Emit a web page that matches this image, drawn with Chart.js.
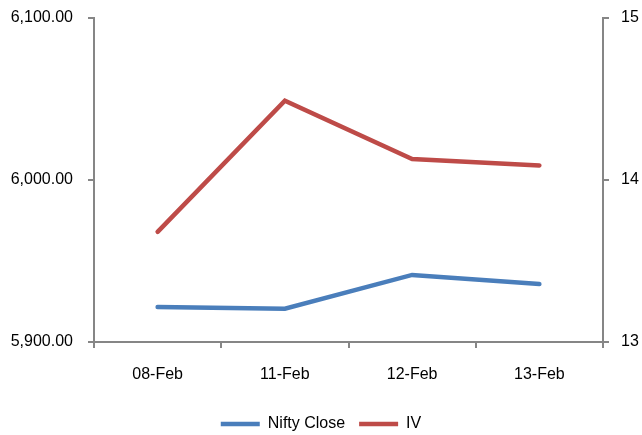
<!DOCTYPE html>
<html>
<head>
<meta charset="utf-8">
<script src="https://cdn.jsdelivr.net/npm/chart.js@4/dist/chart.umd.min.js"></script>
<style>
  html, body { margin: 0; padding: 0; background: #fff; }
  #wrap { width: 642px; height: 435px; }
</style>
</head>
<body>
<div id="wrap"><canvas id="c" width="642" height="435"></canvas></div>
<script>
const categories = ['08-Feb', '11-Feb', '12-Feb', '13-Feb'];
const niftyClose = [5921.6, 5920.5, 5941.4, 5935.8];
const iv = [13.68, 14.49, 14.13, 14.09];
const leftTicks = [5900, 6000, 6100];
const rightTicks = [13, 14, 15];

const FONT = "'Liberation Sans', Arial, sans-serif";
const AXIS = '#868686';
const fmtLeft = v => v.toLocaleString('en-US', { minimumFractionDigits: 2, maximumFractionDigits: 2 });

// vertical axes: fixed width, and no extra vertical room reserved for the end labels
const fitVertical = w => s => { s.width = w; s.paddingTop = 0; s.paddingBottom = 0; };

new Chart(document.getElementById('c'), {
  type: 'line',
  data: {
    labels: categories,
    datasets: [
      { label: 'Nifty Close', data: niftyClose, yAxisID: 'y',
        borderColor: '#4a7ebb', backgroundColor: '#4a7ebb', borderWidth: 4.5,
        pointRadius: 0, pointStyle: 'line', tension: 0, borderCapStyle: 'round' },
      { label: 'IV', data: iv, yAxisID: 'y1',
        borderColor: '#be4b48', backgroundColor: '#be4b48', borderWidth: 4.5,
        pointRadius: 0, pointStyle: 'line', tension: 0, borderCapStyle: 'round' }
    ]
  },
  options: {
    responsive: false,
    animation: false,
    layout: { padding: { top: 18, left: 0, right: 0, bottom: -7 } },
    plugins: {
      tooltip: { enabled: false },
      legend: {
        position: 'bottom',
        labels: {
          font: { family: FONT, size: 16 }, color: '#000',
          usePointStyle: true, pointStyle: 'line', pointStyleWidth: 39,
          boxWidth: 39, boxHeight: 4, padding: 14
        }
      }
    },
    scales: {
      x: {
        offset: true,
        grid: { display: true, drawOnChartArea: false, offset: true, color: AXIS, lineWidth: 2, tickLength: 6 },
        border: { color: AXIS, width: 2 },
        ticks: { font: { family: FONT, size: 16 }, color: '#000', padding: 17, maxRotation: 0 },
        afterFit: s => { s.height = 60; }
      },
      y: {
        position: 'left', min: 5900, max: 6100,
        afterBuildTicks: s => { s.ticks = leftTicks.map(v => ({ value: v })); },
        grid: { display: true, drawOnChartArea: false, color: AXIS, lineWidth: 2, tickLength: 6 },
        border: { color: AXIS, width: 2 },
        ticks: { font: { family: FONT, size: 16 }, color: '#000', padding: 15, callback: v => fmtLeft(v) },
        afterFit: fitVertical(94)
      },
      y1: {
        position: 'right', min: 13, max: 15,
        afterBuildTicks: s => { s.ticks = rightTicks.map(v => ({ value: v })); },
        grid: { display: true, drawOnChartArea: false, color: AXIS, lineWidth: 2, tickLength: 6 },
        border: { color: AXIS, width: 2 },
        ticks: { font: { family: FONT, size: 16 }, color: '#000', padding: 12 },
        afterFit: fitVertical(39)
      }
    }
  }
});
</script>
</body>
</html>
